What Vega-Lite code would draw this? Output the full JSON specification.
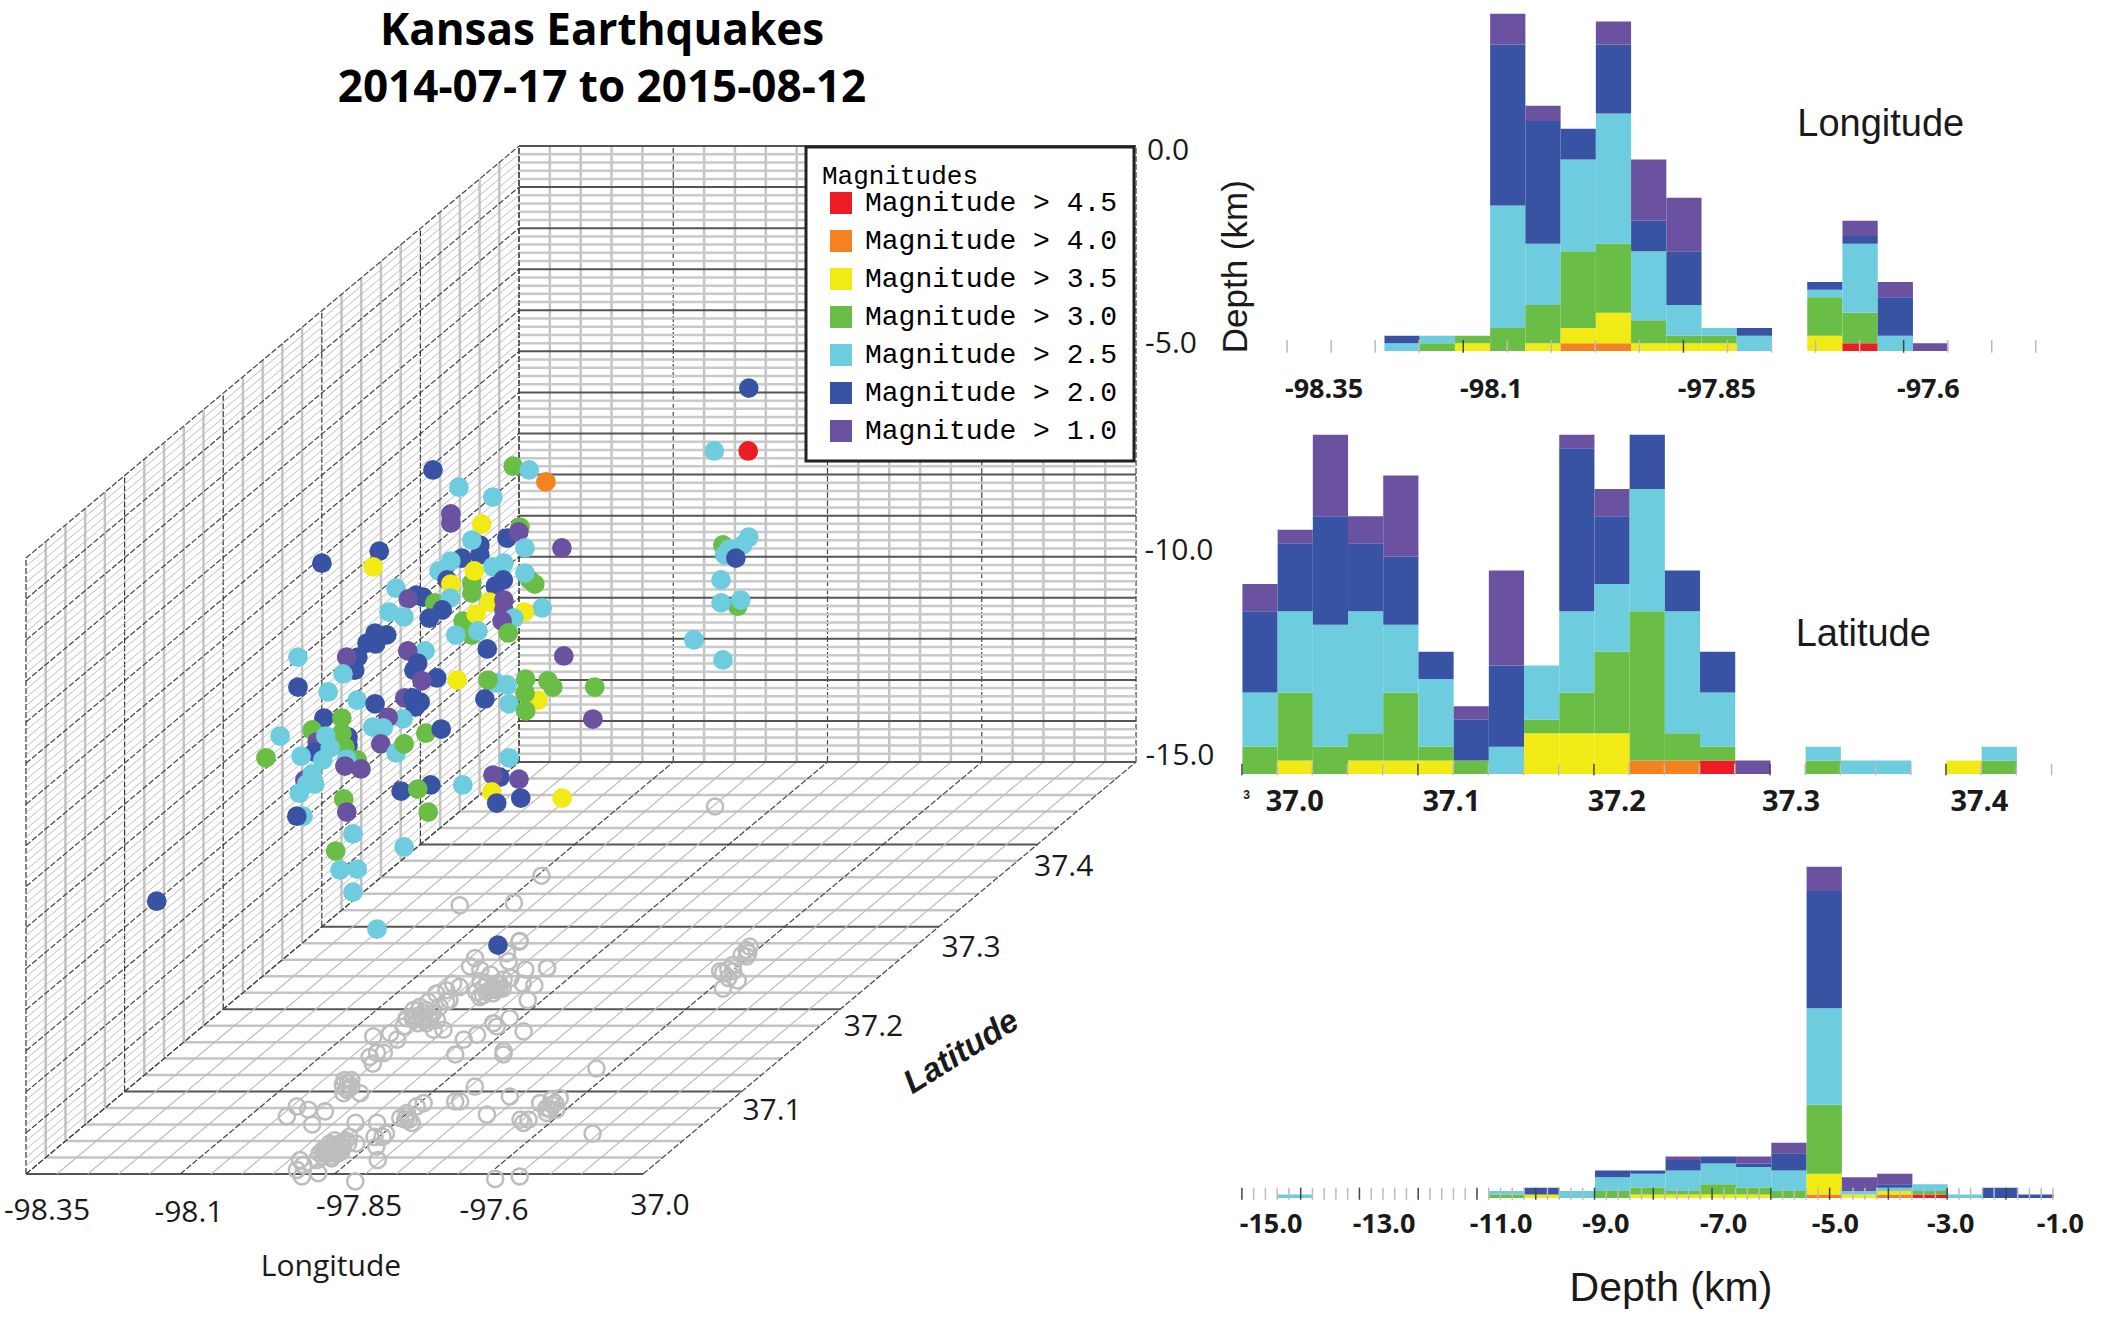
{
"$schema":"https://vega.github.io/schema/vega-lite/v6.json",
"background":"white","padding":0,"bounds":"flush","spacing":0,
"config":{"view":{"stroke":null},"axis":{"grid":false},"legend":{"strokeWidth":3}},
"datasets":{
"lats":[{"lat":37.02},{"lat":37.04},{"lat":37.06},{"lat":37.08},{"lat":37.12},{"lat":37.14},{"lat":37.16},{"lat":37.18},{"lat":37.22},{"lat":37.24},{"lat":37.26},{"lat":37.28},{"lat":37.32},{"lat":37.34},{"lat":37.36},{"lat":37.38},{"lat":37.42},{"lat":37.44},{"lat":37.46},{"lat":37.48},{"lat":37.0,"major":true},{"lat":37.1,"major":true},{"lat":37.2,"major":true},{"lat":37.3,"major":true},{"lat":37.4,"major":true},{"lat":37.5,"major":true}],
"lons":[{"lon":-98.3},{"lon":-98.25},{"lon":-98.2},{"lon":-98.15},{"lon":-98.05},{"lon":-98.0},{"lon":-97.95},{"lon":-97.9},{"lon":-97.8},{"lon":-97.75},{"lon":-97.7},{"lon":-97.65},{"lon":-97.55},{"lon":-97.5},{"lon":-97.45},{"lon":-97.4},{"lon":-98.35,"major":true},{"lon":-98.1,"major":true},{"lon":-97.85,"major":true},{"lon":-97.6,"major":true},{"lon":-97.35,"major":true}],
"depths":[{"d":-0.2},{"d":-0.4},{"d":-0.6},{"d":-0.8},{"d":-1.2},{"d":-1.4},{"d":-1.6},{"d":-1.8},{"d":-2.2},{"d":-2.4},{"d":-2.6},{"d":-2.8},{"d":-3.2},{"d":-3.4},{"d":-3.6},{"d":-3.8},{"d":-4.2},{"d":-4.4},{"d":-4.6},{"d":-4.8},{"d":-5.2},{"d":-5.4},{"d":-5.6},{"d":-5.8},{"d":-6.2},{"d":-6.4},{"d":-6.6},{"d":-6.8},{"d":-7.2},{"d":-7.4},{"d":-7.6},{"d":-7.8},{"d":-8.2},{"d":-8.4},{"d":-8.6},{"d":-8.8},{"d":-9.2},{"d":-9.4},{"d":-9.6},{"d":-9.8},{"d":-10.2},{"d":-10.4},{"d":-10.6},{"d":-10.8},{"d":-11.2},{"d":-11.4},{"d":-11.6},{"d":-11.8},{"d":-12.2},{"d":-12.4},{"d":-12.6},{"d":-12.8},{"d":-13.2},{"d":-13.4},{"d":-13.6},{"d":-13.8},{"d":-14.2},{"d":-14.4},{"d":-14.6},{"d":-14.8},{"d":0,"major":true},{"d":-1,"major":true},{"d":-2,"major":true},{"d":-3,"major":true},{"d":-4,"major":true},{"d":-5,"major":true},{"d":-6,"major":true},{"d":-7,"major":true},{"d":-8,"major":true},{"d":-9,"major":true},{"d":-10,"major":true},{"d":-11,"major":true},{"d":-12,"major":true},{"d":-13,"major":true},{"d":-14,"major":true},{"d":-15,"major":true}],
"shadows":[{"lon":-98.001,"lat":37.282},{"lon":-97.999,"lat":37.268},{"lon":-97.937,"lat":37.248},{"lon":-97.905,"lat":37.25},{"lon":-98.041,"lat":37.262},{"lon":-98.01,"lat":37.248},{"lon":-98.033,"lat":37.252},{"lon":-97.984,"lat":37.242},{"lon":-97.952,"lat":37.231},{"lon":-97.953,"lat":37.225},{"lon":-97.957,"lat":37.221},{"lon":-97.958,"lat":37.215},{"lon":-97.953,"lat":37.236},{"lon":-97.945,"lat":37.238},{"lon":-97.944,"lat":37.223},{"lon":-97.971,"lat":37.231},{"lon":-97.914,"lat":37.231},{"lon":-97.892,"lat":37.229},{"lon":-97.874,"lat":37.211},{"lon":-97.98,"lat":37.258},{"lon":-98.027,"lat":37.231},{"lon":-98.025,"lat":37.223},{"lon":-98.035,"lat":37.219},{"lon":-98.01,"lat":37.227},{"lon":-98.001,"lat":37.211},{"lon":-98.032,"lat":37.209},{"lon":-98.002,"lat":37.195},{"lon":-98.018,"lat":37.195},{"lon":-98.022,"lat":37.191},{"lon":-98.036,"lat":37.203},{"lon":-98.04,"lat":37.199},{"lon":-98.035,"lat":37.189},{"lon":-97.993,"lat":37.183},{"lon":-97.969,"lat":37.175},{"lon":-97.953,"lat":37.175},{"lon":-98.024,"lat":37.179},{"lon":-98.009,"lat":37.163},{"lon":-98.054,"lat":37.167},{"lon":-98.033,"lat":37.171},{"lon":-98.016,"lat":37.147},{"lon":-98.02,"lat":37.142},{"lon":-98.005,"lat":37.147},{"lon":-98.002,"lat":37.134},{"lon":-97.885,"lat":37.183},{"lon":-97.873,"lat":37.179},{"lon":-97.868,"lat":37.189},{"lon":-97.82,"lat":37.173},{"lon":-97.889,"lat":37.169},{"lon":-97.901,"lat":37.163},{"lon":-97.886,"lat":37.145},{"lon":-97.814,"lat":37.149},{"lon":-97.808,"lat":37.145},{"lon":-97.63,"lat":37.128},{"lon":-98.004,"lat":37.11},{"lon":-98.016,"lat":37.114},{"lon":-97.992,"lat":37.106},{"lon":-97.993,"lat":37.102},{"lon":-97.992,"lat":37.098},{"lon":-97.965,"lat":37.098},{"lon":-98.042,"lat":37.082},{"lon":-98.017,"lat":37.078},{"lon":-97.987,"lat":37.076},{"lon":-98.039,"lat":37.07},{"lon":-97.982,"lat":37.06},{"lon":-97.915,"lat":37.062},{"lon":-97.88,"lat":37.062},{"lon":-97.843,"lat":37.086},{"lon":-97.848,"lat":37.082},{"lon":-97.845,"lat":37.07},{"lon":-97.841,"lat":37.066},{"lon":-97.852,"lat":37.068},{"lon":-97.824,"lat":37.062},{"lon":-97.792,"lat":37.106},{"lon":-97.787,"lat":37.088},{"lon":-97.795,"lat":37.088},{"lon":-97.716,"lat":37.094},{"lon":-97.718,"lat":37.072},{"lon":-97.632,"lat":37.084},{"lon":-97.634,"lat":37.08},{"lon":-97.615,"lat":37.078},{"lon":-97.632,"lat":37.092},{"lon":-97.654,"lat":37.086},{"lon":-97.641,"lat":37.066},{"lon":-97.654,"lat":37.066},{"lon":-97.643,"lat":37.062},{"lon":-97.51,"lat":37.049},{"lon":-97.899,"lat":37.029},{"lon":-97.9,"lat":37.033},{"lon":-97.898,"lat":37.025},{"lon":-97.91,"lat":37.029},{"lon":-97.901,"lat":37.037},{"lon":-97.897,"lat":37.041},{"lon":-97.902,"lat":37.021},{"lon":-97.914,"lat":37.025},{"lon":-97.889,"lat":37.033},{"lon":-97.915,"lat":37.041},{"lon":-97.898,"lat":37.045},{"lon":-97.917,"lat":37.037},{"lon":-97.906,"lat":37.017},{"lon":-97.874,"lat":37.037},{"lon":-97.857,"lat":37.045},{"lon":-97.844,"lat":37.045},{"lon":-97.845,"lat":37.049},{"lon":-97.807,"lat":37.017},{"lon":-97.835,"lat":37.033},{"lon":-97.918,"lat":37.011},{"lon":-97.933,"lat":37.017},{"lon":-97.919,"lat":37.005},{"lon":-97.898,"lat":36.997},{"lon":-97.878,"lat":37.001},{"lon":-97.802,"lat":36.991},{"lon":-97.58,"lat":36.994},{"lon":-97.545,"lat":36.997},{"lon":-97.955,"lat":37.223},{"lon":-97.942,"lat":37.225},{"lon":-97.956,"lat":37.217},{"lon":-98.005,"lat":37.187},{"lon":-98.007,"lat":37.183},{"lon":-98.0,"lat":37.189},{"lon":-98.021,"lat":37.187},{"lon":-97.884,"lat":37.025},{"lon":-97.915,"lat":37.029},{"lon":-97.882,"lat":37.027},{"lon":-97.885,"lat":37.019},{"lon":-97.608,"lat":37.268},{"lon":-97.604,"lat":37.264},{"lon":-97.618,"lat":37.276},{"lon":-97.61,"lat":37.254},{"lon":-97.61,"lat":37.244},{"lon":-97.618,"lat":37.246},{"lon":-97.592,"lat":37.238},{"lon":-97.58,"lat":37.225},{"lon":-97.572,"lat":37.235},{"lon":-97.946,"lat":37.446},{"lon":-98.093,"lat":37.362},{"lon":-98.168,"lat":37.326},{"lon":-98.085,"lat":37.329},{"lon":-98.002,"lat":37.283},{"lon":-97.905,"lat":37.25},
{"lon":-97.957,"lat":37.231},{"lon":-97.943,"lat":37.219},{"lon":-97.937,"lat":37.225},{"lon":-97.97,"lat":37.227},{"lon":-97.973,"lat":37.221},{"lon":-97.987,"lat":37.234},{"lon":-98.019,"lat":37.199},{"lon":-98.02,"lat":37.193},{"lon":-97.994,"lat":37.187},{"lon":-97.983,"lat":37.187},{"lon":-98.028,"lat":37.191},{"lon":-98.004,"lat":37.203},{"lon":-98.003,"lat":37.209},{"lon":-98.009,"lat":37.108},{"lon":-98.005,"lat":37.114},{"lon":-97.994,"lat":37.104},{"lon":-97.908,"lat":37.035},{"lon":-97.891,"lat":37.029},{"lon":-97.91,"lat":37.031},{"lon":-97.89,"lat":37.025},{"lon":-97.906,"lat":37.025},{"lon":-97.899,"lat":37.039},{"lon":-97.891,"lat":37.021},{"lon":-97.887,"lat":37.037},{"lon":-97.851,"lat":37.074},{"lon":-97.835,"lat":37.066},{"lon":-97.642,"lat":37.09},{"lon":-97.625,"lat":37.078},{"lon":-97.63,"lat":37.086},{"lon":-97.624,"lat":37.074},{"lon":-97.597,"lat":37.246},{"lon":-97.615,"lat":37.266},{"lon":-97.617,"lat":37.272},{"lon":-97.608,"lat":37.248}],
"quakes":[
{"lon":-97.594,"lat":37.26,"depth":-1.08,"m":2},{"lon":-97.65,"lat":37.26,"depth":-2.61,"m":2.5},{"lon":-97.595,"lat":37.26,"depth":-2.61,"m":4.5},{"lon":-97.636,"lat":37.26,"depth":-4.9,"m":3},{"lon":-97.594,"lat":37.26,"depth":-4.71,"m":2.5},{"lon":-97.604,"lat":37.26,"depth":-4.9,"m":2.5},{"lon":-97.626,"lat":37.26,"depth":-5,"m":2.5},{"lon":-97.633,"lat":37.26,"depth":-5.14,"m":2.5},{"lon":-97.615,"lat":37.26,"depth":-5.22,"m":2},{"lon":-97.639,"lat":37.26,"depth":-5.75,"m":2.5},{"lon":-97.612,"lat":37.26,"depth":-6.39,"m":3},{"lon":-97.607,"lat":37.26,"depth":-6.24,"m":2.5},{"lon":-97.639,"lat":37.26,"depth":-6.31,"m":2.5},{"lon":-97.683,"lat":37.26,"depth":-7.21,"m":2.5},{"lon":-97.636,"lat":37.26,"depth":-7.7,"m":2.5},
{"lon":-98.042,"lat":37.22,"depth":-2.27,"m":2},{"lon":-97.912,"lat":37.22,"depth":-2.18,"m":3},{"lon":-97.886,"lat":37.22,"depth":-2.27,"m":2.5},{"lon":-97.859,"lat":37.22,"depth":-2.56,"m":4},{"lon":-98,"lat":37.22,"depth":-2.69,"m":2.5},{"lon":-97.945,"lat":37.22,"depth":-2.93,"m":2.5},{"lon":-98.013,"lat":37.22,"depth":-3.34,"m":1},{"lon":-98.013,"lat":37.22,"depth":-3.56,"m":1},{"lon":-97.963,"lat":37.22,"depth":-3.59,"m":3.5},{"lon":-97.901,"lat":37.22,"depth":-3.66,"m":3},{"lon":-97.922,"lat":37.22,"depth":-3.93,"m":2},{"lon":-97.903,"lat":37.22,"depth":-3.78,"m":1},{"lon":-97.966,"lat":37.22,"depth":-4.1,"m":2},{"lon":-97.966,"lat":37.22,"depth":-4.34,"m":2},{"lon":-97.979,"lat":37.22,"depth":-3.98,"m":2.5},{"lon":-97.893,"lat":37.22,"depth":-4.17,"m":2.5},{"lon":-97.833,"lat":37.22,"depth":-4.17,"m":1},{"lon":-98.129,"lat":37.22,"depth":-4.25,"m":2},{"lon":-98.139,"lat":37.22,"depth":-4.63,"m":3.5},{"lon":-98.222,"lat":37.22,"depth":-4.54,"m":2},{"lon":-97.995,"lat":37.22,"depth":-4.42,"m":2},{"lon":-98.013,"lat":37.22,"depth":-4.49,"m":2.5},{"lon":-98.032,"lat":37.22,"depth":-4.73,"m":2.5},{"lon":-97.945,"lat":37.22,"depth":-4.63,"m":2.5},{"lon":-97.927,"lat":37.22,"depth":-4.54,"m":2.5},{"lon":-97.877,"lat":37.22,"depth":-5.05,"m":3},{"lon":-97.885,"lat":37.22,"depth":-4.95,"m":3},{"lon":-97.893,"lat":37.22,"depth":-4.78,"m":2.5},{"lon":-97.928,"lat":37.22,"depth":-4.95,"m":2},{"lon":-97.941,"lat":37.22,"depth":-5.1,"m":2},{"lon":-98.019,"lat":37.22,"depth":-4.95,"m":2},{"lon":-98.013,"lat":37.22,"depth":-5.05,"m":3.5},{"lon":-98.102,"lat":37.22,"depth":-5.15,"m":2.5},{"lon":-97.979,"lat":37.22,"depth":-5.02,"m":3},{"lon":-97.979,"lat":37.22,"depth":-5.27,"m":3},{"lon":-97.975,"lat":37.22,"depth":-4.73,"m":3.5},{"lon":-98.069,"lat":37.22,"depth":-5.32,"m":2},{"lon":-98.058,"lat":37.22,"depth":-5.37,"m":2},{"lon":-98.082,"lat":37.22,"depth":-5.41,"m":1},{"lon":-98.039,"lat":37.22,"depth":-5.51,"m":3},{"lon":-98.014,"lat":37.22,"depth":-5.39,"m":2.5},{"lon":-97.95,"lat":37.22,"depth":-5.49,"m":3.5},{"lon":-97.927,"lat":37.22,"depth":-5.44,"m":1},{"lon":-97.927,"lat":37.22,"depth":-5.68,"m":1},{"lon":-97.865,"lat":37.22,"depth":-5.63,"m":2.5},{"lon":-97.894,"lat":37.22,"depth":-5.73,"m":3.5},{"lon":-98.113,"lat":37.22,"depth":-5.73,"m":2.5},{"lon":-98.089,"lat":37.22,"depth":-5.85,"m":2.5},{"lon":-98.027,"lat":37.22,"depth":-5.68,"m":2},{"lon":-98.048,"lat":37.22,"depth":-5.88,"m":2},{"lon":-97.993,"lat":37.22,"depth":-5.95,"m":3},{"lon":-97.972,"lat":37.22,"depth":-5.78,"m":3.5},{"lon":-97.911,"lat":37.22,"depth":-5.88,"m":2.5},{"lon":-97.93,"lat":37.22,"depth":-5.95,"m":1},{"lon":-97.979,"lat":37.22,"depth":-6.29,"m":3},{"lon":-97.92,"lat":37.22,"depth":-6.24,"m":3},{"lon":-98.005,"lat":37.22,"depth":-6.29,"m":2.5},{"lon":-97.969,"lat":37.22,"depth":-6.19,"m":2.5},{"lon":-97.954,"lat":37.22,"depth":-6.63,"m":2},{"lon":-97.83,"lat":37.22,"depth":-6.8,"m":1},
{"lon":-97.965,"lat":37.125,"depth":-4.38,"m":2},{"lon":-97.984,"lat":37.125,"depth":-4.34,"m":2},{"lon":-97.997,"lat":37.125,"depth":-4.58,"m":2},{"lon":-97.983,"lat":37.125,"depth":-4.6,"m":2},{"lon":-97.903,"lat":37.125,"depth":-4.77,"m":2.5},{"lon":-97.931,"lat":37.125,"depth":-4.77,"m":1},{"lon":-97.915,"lat":37.125,"depth":-5.07,"m":2},{"lon":-97.921,"lat":37.125,"depth":-5.24,"m":2},{"lon":-97.884,"lat":37.125,"depth":-5.43,"m":2},{"lon":-97.908,"lat":37.125,"depth":-5.5,"m":1},{"lon":-97.851,"lat":37.125,"depth":-5.48,"m":3.5},{"lon":-97.72,"lat":37.125,"depth":-5.97,"m":3.5},{"lon":-97.787,"lat":37.125,"depth":-5.55,"m":2.5},{"lon":-97.77,"lat":37.125,"depth":-5.6,"m":2.5},{"lon":-97.801,"lat":37.125,"depth":-5.48,"m":3},{"lon":-97.74,"lat":37.125,"depth":-5.46,"m":3},{"lon":-97.704,"lat":37.125,"depth":-5.5,"m":3},{"lon":-97.696,"lat":37.125,"depth":-5.65,"m":3},{"lon":-97.628,"lat":37.125,"depth":-5.65,"m":3},{"lon":-97.806,"lat":37.125,"depth":-5.94,"m":2},{"lon":-97.767,"lat":37.125,"depth":-6.06,"m":2.5},{"lon":-97.741,"lat":37.125,"depth":-5.8,"m":3},{"lon":-97.74,"lat":37.125,"depth":-6.23,"m":3},{"lon":-98.109,"lat":37.125,"depth":-4.92,"m":2.5},{"lon":-98.012,"lat":37.125,"depth":-4.92,"m":2},{"lon":-98.017,"lat":37.125,"depth":-5.24,"m":2},{"lon":-98.03,"lat":37.125,"depth":-4.92,"m":1},{"lon":-98.036,"lat":37.125,"depth":-5.33,"m":2.5},{"lon":-98.109,"lat":37.125,"depth":-5.65,"m":2},{"lon":-98.06,"lat":37.125,"depth":-5.77,"m":2.5},{"lon":-98.013,"lat":37.125,"depth":-5.97,"m":2.5},{"lon":-97.984,"lat":37.125,"depth":-6.06,"m":2},{"lon":-97.631,"lat":37.125,"depth":-6.43,"m":1},
{"lon":-97.816,"lat":37.05,"depth":-4.41,"m":1},{"lon":-97.803,"lat":37.05,"depth":-4.41,"m":2},{"lon":-97.791,"lat":37.05,"depth":-4.51,"m":2},{"lon":-97.799,"lat":37.05,"depth":-4.63,"m":2},{"lon":-97.819,"lat":37.05,"depth":-4.92,"m":2.5},{"lon":-97.843,"lat":37.05,"depth":-4.88,"m":1},{"lon":-97.947,"lat":37.05,"depth":-4.9,"m":2},{"lon":-97.966,"lat":37.05,"depth":-5.19,"m":3},{"lon":-97.918,"lat":37.05,"depth":-4.9,"m":3},{"lon":-97.868,"lat":37.05,"depth":-5.12,"m":2.5},{"lon":-97.851,"lat":37.05,"depth":-5.14,"m":2.5},{"lon":-97.782,"lat":37.05,"depth":-5.27,"m":3},{"lon":-97.757,"lat":37.05,"depth":-5.17,"m":2},{"lon":-98.018,"lat":37.05,"depth":-5.34,"m":2.5},{"lon":-97.908,"lat":37.05,"depth":-5.36,"m":2},{"lon":-97.908,"lat":37.05,"depth":-5.56,"m":2},{"lon":-97.958,"lat":37.05,"depth":-5.48,"m":1},{"lon":-97.918,"lat":37.05,"depth":-5.27,"m":3},{"lon":-97.944,"lat":37.05,"depth":-5.34,"m":2.5},{"lon":-97.855,"lat":37.05,"depth":-5.53,"m":1},{"lon":-97.83,"lat":37.05,"depth":-5.75,"m":2.5},{"lon":-97.817,"lat":37.05,"depth":-5.53,"m":3},{"lon":-97.962,"lat":37.05,"depth":-5.73,"m":2},{"lon":-97.913,"lat":37.05,"depth":-5.61,"m":3},{"lon":-97.937,"lat":37.05,"depth":-5.63,"m":2.5},{"lon":-98.041,"lat":37.05,"depth":-5.87,"m":3},{"lon":-97.984,"lat":37.05,"depth":-5.83,"m":2.5},{"lon":-97.949,"lat":37.05,"depth":-5.92,"m":2.5},{"lon":-97.893,"lat":37.05,"depth":-5.92,"m":3},{"lon":-97.91,"lat":37.05,"depth":-5.9,"m":2.5},{"lon":-97.913,"lat":37.05,"depth":-6.07,"m":1},{"lon":-97.887,"lat":37.05,"depth":-6.14,"m":1},{"lon":-97.647,"lat":37.05,"depth":-5.87,"m":2.5},{"lon":-97.978,"lat":37.05,"depth":-6.41,"m":1},{"lon":-97.966,"lat":37.05,"depth":-6.26,"m":2.5},{"lon":-97.975,"lat":37.05,"depth":-6.51,"m":2.5},{"lon":-97.962,"lat":37.05,"depth":-6.51,"m":2.5},{"lon":-97.987,"lat":37.05,"depth":-6.73,"m":2.5},{"lon":-97.662,"lat":37.05,"depth":-6.34,"m":2},{"lon":-97.673,"lat":37.05,"depth":-6.29,"m":1},{"lon":-97.631,"lat":37.05,"depth":-6.39,"m":1},{"lon":-97.722,"lat":37.05,"depth":-6.53,"m":2.5},{"lon":-97.822,"lat":37.05,"depth":-6.68,"m":2},{"lon":-97.774,"lat":37.05,"depth":-6.53,"m":2},{"lon":-97.795,"lat":37.05,"depth":-6.63,"m":3},{"lon":-97.675,"lat":37.05,"depth":-6.7,"m":3.5},{"lon":-97.667,"lat":37.05,"depth":-6.97,"m":2},{"lon":-97.628,"lat":37.05,"depth":-6.85,"m":2},{"lon":-97.561,"lat":37.05,"depth":-6.85,"m":3.5},{"lon":-97.915,"lat":37.05,"depth":-6.87,"m":3},{"lon":-97.91,"lat":37.05,"depth":-7.19,"m":1},{"lon":-97.981,"lat":37.05,"depth":-7.29,"m":2.5},{"lon":-97.991,"lat":37.05,"depth":-7.29,"m":2},{"lon":-97.778,"lat":37.05,"depth":-7.19,"m":3},{"lon":-97.9,"lat":37.05,"depth":-7.72,"m":2.5},{"lon":-97.817,"lat":37.05,"depth":-8.04,"m":2.5},{"lon":-97.928,"lat":37.05,"depth":-8.14,"m":3},{"lon":-97.921,"lat":37.05,"depth":-8.6,"m":2.5},{"lon":-97.893,"lat":37.05,"depth":-8.58,"m":2.5},{"lon":-97.9,"lat":37.05,"depth":-9.14,"m":2.5},{"lon":-97.861,"lat":37.05,"depth":-10.04,"m":2.5},{"lon":-97.665,"lat":37.05,"depth":-10.43,"m":2},{"lon":-98.218,"lat":37.05,"depth":-9.36,"m":2}],
"labels3d":[{"label":"-98.35","lon":-98.2442,"lat":36.9551,"depth":-15},{"label":"-98.1","lon":-98.0102,"lat":36.9527,"depth":-15},{"label":"-97.85","lon":-97.7463,"lat":36.96,"depth":-15},{"label":"-97.6","lon":-97.5197,"lat":36.9551,"depth":-15},{"label":"37.0","lon":-97.2604,"lat":36.9612,"depth":-15},{"label":"37.1","lon":-97.2631,"lat":37.0765,"depth":-15},{"label":"37.2","lon":-97.2623,"lat":37.1789,"depth":-15},{"label":"37.3","lon":-97.2557,"lat":37.2737,"depth":-15},{"label":"37.4","lon":-97.2636,"lat":37.3726,"depth":-15},{"label":"Longitude","lon":-97.6753,"lat":36.8871,"depth":-15},{"label":"0.0","lon":-97.2981,"lat":37.5,"depth":-0.12},{"label":"-5.0","lon":-97.2933,"lat":37.5,"depth":-4.82},{"label":"-10.0","lon":-97.2803,"lat":37.5,"depth":-9.86},{"label":"-15.0","lon":-97.2787,"lat":37.5,"depth":-14.85}],
"titles3d":[{"label":"Kansas Earthquakes","lon":-98.2155,"lat":37.5,"depth":2.78},{"label":"2014-07-17 to 2015-08-12","lon":-98.2155,"lat":37.5,"depth":1.39}],
"latTitle":[{"label":"Latitude","lon":-97.0705,"lat":37.148,"depth":-15}]
},
"hconcat":[
{"width":1190,"height":1326,
"layer":[
{"data":{"name":"lats"},"transform":[{"calculate":"1.598*(datum.lat-37)","as":"a"},{"calculate":"datum.a+1","as":"b"},{"calculate":"1.3355*(datum.lat-37)","as":"c"}],"mark":{"type":"rule"},
"encoding":{"x":{"field":"a","type":"quantitative","scale":{"domain":[-0.04214,1.8865],"nice":false,"zero":false},"axis":null},"x2":{"field":"b"},"y":{"field":"c","type":"quantitative","scale":{"domain":[-0.2464,1.9028],"nice":false,"zero":false},"axis":null},"y2":{"field":"c"},
"stroke":{"condition":{"test":"datum.major","value":"#555555"},"value":"#c4c4c4"},"strokeWidth":{"condition":{"test":"datum.major","value":2},"value":2.5}}},
{"data":{"name":"lons"},"transform":[{"calculate":"datum.lon+98.35","as":"a"},{"calculate":"datum.a+0.799","as":"b"},{"calculate":"0","as":"c"},{"calculate":"0.6677","as":"e"}],"mark":{"type":"rule"},
"encoding":{"x":{"field":"a","type":"quantitative","axis":null},"x2":{"field":"b"},"y":{"field":"c","type":"quantitative","axis":null},"y2":{"field":"e"},
"stroke":{"condition":{"test":"datum.major","value":"#444444"},"value":"#bcbcbc"},"strokeWidth":{"condition":{"test":"datum.major","value":1.2},"value":1.2},"strokeDash":{"condition":{"test":"datum.major","value":[6,2]},"value":[1,0]}}},
{"data":{"name":"lons"},"transform":[{"calculate":"datum.lon+98.35+0.799","as":"a"},{"calculate":"0.6677","as":"c"},{"calculate":"1.6661","as":"e"}],"mark":{"type":"rule"},
"encoding":{"x":{"field":"a","type":"quantitative","axis":null},"y":{"field":"c","type":"quantitative","axis":null},"y2":{"field":"e"},
"stroke":{"condition":{"test":"datum.major","value":"#444444"},"value":"#c4c4c4"},"strokeWidth":{"condition":{"test":"datum.major","value":1.2},"value":2.5},"strokeDash":{"condition":{"test":"datum.major","value":[6,2]},"value":[1,0]}}},
{"data":{"name":"depths"},"transform":[{"calculate":"0.799","as":"a"},{"calculate":"1.799","as":"b"},{"calculate":"0.6677+(datum.d+15)*0.06656","as":"c"}],"mark":{"type":"rule"},
"encoding":{"x":{"field":"a","type":"quantitative","axis":null},"x2":{"field":"b"},"y":{"field":"c","type":"quantitative","axis":null},"y2":{"field":"c"},
"stroke":{"condition":{"test":"datum.major","value":"#555555"},"value":"#c9c9c9"},"strokeWidth":{"condition":{"test":"datum.major","value":2},"value":2.5}}},
{"data":{"name":"lats"},"transform":[{"calculate":"1.598*(datum.lat-37)","as":"a"},{"calculate":"1.3355*(datum.lat-37)","as":"c"},{"calculate":"datum.c+0.9984","as":"e"}],"mark":{"type":"rule"},
"encoding":{"x":{"field":"a","type":"quantitative","axis":null},"y":{"field":"c","type":"quantitative","axis":null},"y2":{"field":"e"},
"stroke":{"condition":{"test":"datum.major","value":"#333333"},"value":"#c4c4c4"},"strokeWidth":{"condition":{"test":"datum.major","value":1.2},"value":2.5},"strokeDash":{"condition":{"test":"datum.major","value":[6,2]},"value":[1,0]}}},
{"data":{"name":"depths"},"transform":[{"calculate":"0","as":"a"},{"calculate":"0.799","as":"b"},{"calculate":"(datum.d+15)*0.06656","as":"c"},{"calculate":"datum.c+0.6677","as":"e"}],"mark":{"type":"rule"},
"encoding":{"x":{"field":"a","type":"quantitative","axis":null},"x2":{"field":"b"},"y":{"field":"c","type":"quantitative","axis":null},"y2":{"field":"e"},
"stroke":{"condition":{"test":"datum.major","value":"#444444"},"value":"#b4b4b4"},"strokeWidth":{"condition":{"test":"datum.major","value":1.2},"value":1},"strokeDash":{"condition":{"test":"datum.major","value":[6,2]},"value":[1,0]}}},
{"data":{"name":"shadows"},"transform":[{"calculate":"(datum.lon+98.35)+1.598*(datum.lat-37)","as":"px"},{"calculate":"1.3355*(datum.lat-37)","as":"py"}],"mark":{"type":"point","filled":false,"opacity":1},
"encoding":{"x":{"field":"px","type":"quantitative","axis":null},"y":{"field":"py","type":"quantitative","axis":null},"size":{"value":260},"stroke":{"value":"#bdbdbd"},"strokeWidth":{"value":2.5}}},
{"data":{"name":"quakes"},"transform":[{"calculate":"(datum.lon+98.35)+1.598*(datum.lat-37)","as":"px"},{"calculate":"1.3355*(datum.lat-37)+(datum.depth+15)*0.06656","as":"py"}],"mark":{"type":"point","filled":true,"opacity":1},
"encoding":{"x":{"field":"px","type":"quantitative","axis":null},"y":{"field":"py","type":"quantitative","axis":null},"size":{"value":390},
"color":{"field":"m","type":"nominal","scale":{"domain":[4.5,4,3.5,3,2.5,2,1],"range":["#ED1C24","#F58220","#F2EA14","#6ABD45","#6DCCDD","#3953A4","#6B52A0"]},
"legend":{"orient":"none","legendX":806,"legendY":147,"title":"Magnitudes","symbolType":"square","symbolSize":484,"symbolStrokeWidth":0,"symbolOpacity":1,"symbolOffset":5,"fillColor":"white","strokeColor":"#222222","padding":16,"rowPadding":10,"titleFont":"Liberation Mono","titleFontSize":26,"titleFontWeight":"normal","titleColor":"#000000","titlePadding":0,"labelFont":"Liberation Mono","labelFontSize":28,"labelColor":"#000000","labelOffset":10,"labelLimit":320,"labelExpr":"'Magnitude > ' + format(datum.value,'.1f')"}}}},
{"data":{"name":"labels3d"},"transform":[{"calculate":"(datum.lon+98.35)+1.598*(datum.lat-37)","as":"px"},{"calculate":"1.3355*(datum.lat-37)+(datum.depth+15)*0.06656","as":"py"}],"mark":{"type":"text","font":"Open Sans","fontSize":30,"color":"#1a1a1a","align":"center","baseline":"middle"},
"encoding":{"x":{"field":"px","type":"quantitative","axis":null},"y":{"field":"py","type":"quantitative","axis":null},"text":{"field":"label"}}},
{"data":{"name":"titles3d"},"transform":[{"calculate":"(datum.lon+98.35)+1.598*(datum.lat-37)","as":"px"},{"calculate":"1.3355*(datum.lat-37)+(datum.depth+15)*0.06656","as":"py"}],"mark":{"type":"text","font":"Open Sans","fontSize":44,"fontWeight":"bold","color":"#000000","align":"center","baseline":"middle"},
"encoding":{"x":{"field":"px","type":"quantitative","axis":null},"y":{"field":"py","type":"quantitative","axis":null},"text":{"field":"label"}}},
{"data":{"name":"latTitle"},"transform":[{"calculate":"(datum.lon+98.35)+1.598*(datum.lat-37)","as":"px"},{"calculate":"1.3355*(datum.lat-37)+(datum.depth+15)*0.06656","as":"py"}],"mark":{"type":"text","font":"Liberation Sans","fontSize":33,"fontWeight":"bold","fontStyle":"italic","angle":328,"color":"#1a1a1a","align":"center","baseline":"middle"},
"encoding":{"x":{"field":"px","type":"quantitative","axis":null},"y":{"field":"py","type":"quantitative","axis":null},"text":{"field":"label"}}}
]},
{"vconcat":[
{"width":923,"height":351,
"layer":[
{"data":{"values":[{"x0":-98.19,"x1":-98.15,"m":2.5,"n":1},{"x0":-98.19,"x1":-98.15,"m":2,"n":1},{"x0":-98.15,"x1":-98.11,"m":3,"n":1},{"x0":-98.15,"x1":-98.11,"m":2.5,"n":1},{"x0":-98.11,"x1":-98.07,"m":3.5,"n":1},{"x0":-98.11,"x1":-98.07,"m":3,"n":1},{"x0":-98.07,"x1":-98.03,"m":3,"n":3},{"x0":-98.07,"x1":-98.03,"m":2.5,"n":16},{"x0":-98.07,"x1":-98.03,"m":2,"n":21},{"x0":-98.07,"x1":-98.03,"m":1,"n":4},{"x0":-98.03,"x1":-97.99,"m":3.5,"n":1},{"x0":-98.03,"x1":-97.99,"m":3,"n":5},{"x0":-98.03,"x1":-97.99,"m":2.5,"n":8},{"x0":-98.03,"x1":-97.99,"m":2,"n":16},{"x0":-98.03,"x1":-97.99,"m":1,"n":2},{"x0":-97.99,"x1":-97.95,"m":4,"n":1},{"x0":-97.99,"x1":-97.95,"m":3.5,"n":2},{"x0":-97.99,"x1":-97.95,"m":3,"n":10},{"x0":-97.99,"x1":-97.95,"m":2.5,"n":12},{"x0":-97.99,"x1":-97.95,"m":2,"n":4},{"x0":-97.95,"x1":-97.91,"m":4,"n":1},{"x0":-97.95,"x1":-97.91,"m":3.5,"n":4},{"x0":-97.95,"x1":-97.91,"m":3,"n":9},{"x0":-97.95,"x1":-97.91,"m":2.5,"n":17},{"x0":-97.95,"x1":-97.91,"m":2,"n":9},{"x0":-97.95,"x1":-97.91,"m":1,"n":3},{"x0":-97.91,"x1":-97.87,"m":3.5,"n":1},{"x0":-97.91,"x1":-97.87,"m":3,"n":3},{"x0":-97.91,"x1":-97.87,"m":2.5,"n":9},{"x0":-97.91,"x1":-97.87,"m":2,"n":4},{"x0":-97.91,"x1":-97.87,"m":1,"n":8},{"x0":-97.87,"x1":-97.83,"m":3.5,"n":1},{"x0":-97.87,"x1":-97.83,"m":3,"n":1},{"x0":-97.87,"x1":-97.83,"m":2.5,"n":4},{"x0":-97.87,"x1":-97.83,"m":2,"n":7},{"x0":-97.87,"x1":-97.83,"m":1,"n":7},{"x0":-97.83,"x1":-97.79,"m":3.5,"n":1},{"x0":-97.83,"x1":-97.79,"m":3,"n":1},{"x0":-97.83,"x1":-97.79,"m":2.5,"n":1},{"x0":-97.79,"x1":-97.75,"m":2.5,"n":2},{"x0":-97.79,"x1":-97.75,"m":2,"n":1},{"x0":-97.71,"x1":-97.67,"m":3.5,"n":2},{"x0":-97.71,"x1":-97.67,"m":3,"n":5},{"x0":-97.71,"x1":-97.67,"m":2.5,"n":1},{"x0":-97.71,"x1":-97.67,"m":2,"n":1},{"x0":-97.67,"x1":-97.63,"m":4.5,"n":1},{"x0":-97.67,"x1":-97.63,"m":3,"n":4},{"x0":-97.67,"x1":-97.63,"m":2.5,"n":9},{"x0":-97.67,"x1":-97.63,"m":2,"n":1},{"x0":-97.67,"x1":-97.63,"m":1,"n":2},{"x0":-97.63,"x1":-97.59,"m":2.5,"n":2},{"x0":-97.63,"x1":-97.59,"m":2,"n":5},{"x0":-97.63,"x1":-97.59,"m":1,"n":2},{"x0":-97.59,"x1":-97.55,"m":1,"n":1}]},
"mark":{"type":"bar","binSpacing":0},
"encoding":{"x":{"field":"x0","type":"quantitative","bin":"binned","scale":{"domain":[-98.4102,-97.3623],"nice":false,"zero":false},"axis":null},"x2":{"field":"x1"},"y":{"field":"n","type":"quantitative","stack":"zero","scale":{"domain":[0,45.8],"nice":false},"axis":null},"order":{"field":"m","sort":"descending"},
"color":{"field":"m","type":"nominal","scale":{"domain":[4.5,4,3.5,3,2.5,2,1],"range":["#ED1C24","#F58220","#F2EA14","#6ABD45","#6DCCDD","#3953A4","#6B52A0"]},"legend":null}}},
{"data":{"values":[{"t":-98.3},{"t":-98.25},{"t":-98.2},{"t":-98.15},{"t":-98.05},{"t":-98.0},{"t":-97.95},{"t":-97.9},{"t":-97.8},{"t":-97.75},{"t":-97.7},{"t":-97.65},{"t":-97.55},{"t":-97.5},{"t":-97.45},{"t":-98.1,"major":true},{"t":-97.85,"major":true},{"t":-97.6,"major":true}]},
"transform":[{"calculate":"-0.22","as":"u0"},{"calculate":"1.43","as":"u1"}],
"mark":{"type":"rule","strokeWidth":1.5},
"encoding":{"x":{"field":"t","type":"quantitative"},"y":{"field":"u0","type":"quantitative"},"y2":{"field":"u1"},"stroke":{"condition":{"test":"datum.major","value":"#444444"},"value":"#bbbbbb"}}},
{"data":{"values":[{"label":"-98.35","at":-98.258,"n":-5.09},{"label":"-98.1","at":-98.068,"n":-5.09},{"label":"-97.85","at":-97.812,"n":-5.09},{"label":"-97.6","at":-97.572,"n":-5.09}]},
"mark":{"type":"text","font":"Open Sans","fontWeight":"bold","fontSize":27,"color":"#1a1a1a","align":"center","baseline":"middle"},
"encoding":{"x":{"field":"at","type":"quantitative"},"y":{"field":"n","type":"quantitative"},"text":{"field":"label"}}},
{"data":{"values":[{"label":"Longitude","at":-97.626,"n":29.5}]},
"mark":{"type":"text","font":"Liberation Sans","fontSize":38,"color":"#1a1a1a","align":"center","baseline":"middle"},
"encoding":{"x":{"field":"at","type":"quantitative"},"y":{"field":"n","type":"quantitative"},"text":{"field":"label"}}},
{"data":{"values":[{"label":"Depth (km)","at":-98.358,"n":11}]},
"mark":{"type":"text","font":"Liberation Sans","fontSize":35,"angle":270,"color":"#1a1a1a","align":"center","baseline":"middle"},
"encoding":{"x":{"field":"at","type":"quantitative"},"y":{"field":"n","type":"quantitative"},"text":{"field":"label"}}}
]},
{"width":923,"height":423,
"layer":[
{"data":{"values":[{"x0":37.0,"x1":37.02,"m":3,"n":2},{"x0":37.0,"x1":37.02,"m":2.5,"n":4},{"x0":37.0,"x1":37.02,"m":2,"n":6},{"x0":37.0,"x1":37.02,"m":1,"n":2},{"x0":37.02,"x1":37.04,"m":3.5,"n":1},{"x0":37.02,"x1":37.04,"m":3,"n":5},{"x0":37.02,"x1":37.04,"m":2.5,"n":6},{"x0":37.02,"x1":37.04,"m":2,"n":5},{"x0":37.02,"x1":37.04,"m":1,"n":1},{"x0":37.04,"x1":37.06,"m":3,"n":2},{"x0":37.04,"x1":37.06,"m":2.5,"n":9},{"x0":37.04,"x1":37.06,"m":2,"n":8},{"x0":37.04,"x1":37.06,"m":1,"n":6},{"x0":37.06,"x1":37.08,"m":3.5,"n":1},{"x0":37.06,"x1":37.08,"m":3,"n":2},{"x0":37.06,"x1":37.08,"m":2.5,"n":9},{"x0":37.06,"x1":37.08,"m":2,"n":5},{"x0":37.06,"x1":37.08,"m":1,"n":2},{"x0":37.08,"x1":37.1,"m":3.5,"n":1},{"x0":37.08,"x1":37.1,"m":3,"n":5},{"x0":37.08,"x1":37.1,"m":2.5,"n":5},{"x0":37.08,"x1":37.1,"m":2,"n":5},{"x0":37.08,"x1":37.1,"m":1,"n":6},{"x0":37.1,"x1":37.12,"m":3.5,"n":1},{"x0":37.1,"x1":37.12,"m":3,"n":1},{"x0":37.1,"x1":37.12,"m":2.5,"n":5},{"x0":37.1,"x1":37.12,"m":2,"n":2},{"x0":37.12,"x1":37.14,"m":3,"n":1},{"x0":37.12,"x1":37.14,"m":2,"n":3},{"x0":37.12,"x1":37.14,"m":1,"n":1},{"x0":37.14,"x1":37.16,"m":2.5,"n":2},{"x0":37.14,"x1":37.16,"m":2,"n":6},{"x0":37.14,"x1":37.16,"m":1,"n":7},{"x0":37.16,"x1":37.18,"m":3.5,"n":3},{"x0":37.16,"x1":37.18,"m":3,"n":1},{"x0":37.16,"x1":37.18,"m":2.5,"n":4},{"x0":37.18,"x1":37.2,"m":3.5,"n":3},{"x0":37.18,"x1":37.2,"m":3,"n":3},{"x0":37.18,"x1":37.2,"m":2.5,"n":6},{"x0":37.18,"x1":37.2,"m":2,"n":12},{"x0":37.18,"x1":37.2,"m":1,"n":1},{"x0":37.2,"x1":37.22,"m":3.5,"n":3},{"x0":37.2,"x1":37.22,"m":3,"n":6},{"x0":37.2,"x1":37.22,"m":2.5,"n":5},{"x0":37.2,"x1":37.22,"m":2,"n":5},{"x0":37.2,"x1":37.22,"m":1,"n":2},{"x0":37.22,"x1":37.24,"m":4,"n":1},{"x0":37.22,"x1":37.24,"m":3,"n":11},{"x0":37.22,"x1":37.24,"m":2.5,"n":9},{"x0":37.22,"x1":37.24,"m":2,"n":4},{"x0":37.24,"x1":37.26,"m":4,"n":1},{"x0":37.24,"x1":37.26,"m":3,"n":2},{"x0":37.24,"x1":37.26,"m":2.5,"n":9},{"x0":37.24,"x1":37.26,"m":2,"n":3},{"x0":37.26,"x1":37.28,"m":4.5,"n":1},{"x0":37.26,"x1":37.28,"m":3,"n":1},{"x0":37.26,"x1":37.28,"m":2.5,"n":4},{"x0":37.26,"x1":37.28,"m":2,"n":3},{"x0":37.28,"x1":37.3,"m":1,"n":1},{"x0":37.32,"x1":37.34,"m":3,"n":1},{"x0":37.32,"x1":37.34,"m":2.5,"n":1},{"x0":37.34,"x1":37.36,"m":2.5,"n":1},{"x0":37.36,"x1":37.38,"m":2.5,"n":1},{"x0":37.4,"x1":37.42,"m":3.5,"n":1},{"x0":37.42,"x1":37.44,"m":3,"n":1},{"x0":37.42,"x1":37.44,"m":2.5,"n":1}]},
"mark":{"type":"bar","binSpacing":0},
"encoding":{"x":{"field":"x0","type":"quantitative","bin":"binned","scale":{"domain":[36.9705,37.4949],"nice":false,"zero":false},"axis":null},"x2":{"field":"x1"},"y":{"field":"n","type":"quantitative","stack":"zero","scale":{"domain":[0,31.17],"nice":false},"axis":null},"order":{"field":"m","sort":"descending"},
"color":{"field":"m","type":"nominal","scale":{"domain":[4.5,4,3.5,3,2.5,2,1],"range":["#ED1C24","#F58220","#F2EA14","#6ABD45","#6DCCDD","#3953A4","#6B52A0"]},"legend":null}}},
{"data":{"values":[{"t":37.02},{"t":37.04},{"t":37.06},{"t":37.08},{"t":37.12},{"t":37.14},{"t":37.16},{"t":37.18},{"t":37.22},{"t":37.24},{"t":37.26},{"t":37.28},{"t":37.32},{"t":37.34},{"t":37.36},{"t":37.38},{"t":37.42},{"t":37.44},{"t":37.46},{"t":37.0,"major":true},{"t":37.1,"major":true},{"t":37.2,"major":true},{"t":37.3,"major":true},{"t":37.4,"major":true}]},
"transform":[{"calculate":"-0.1","as":"u0"},{"calculate":"0.75","as":"u1"}],
"mark":{"type":"rule","strokeWidth":1.5},
"encoding":{"x":{"field":"t","type":"quantitative"},"y":{"field":"u0","type":"quantitative"},"y2":{"field":"u1"},"stroke":{"condition":{"test":"datum.major","value":"#444444"},"value":"#bbbbbb"}}},
{"data":{"values":[{"label":"37.0","at":37.03,"n":-2.05},{"label":"37.1","at":37.119,"n":-2.05},{"label":"37.2","at":37.213,"n":-2.05},{"label":"37.3","at":37.312,"n":-2.05},{"label":"37.4","at":37.419,"n":-2.05}]},
"mark":{"type":"text","font":"Open Sans","fontWeight":"bold","fontSize":29,"color":"#1a1a1a","align":"center","baseline":"middle"},
"encoding":{"x":{"field":"at","type":"quantitative"},"y":{"field":"n","type":"quantitative"},"text":{"field":"label"}}},
{"data":{"values":[{"label":"3","at":37.0026,"n":-1.55}]},
"mark":{"type":"text","font":"Liberation Sans","fontWeight":"bold","fontSize":12,"color":"#1a1a1a","align":"center","baseline":"middle"},
"encoding":{"x":{"field":"at","type":"quantitative"},"y":{"field":"n","type":"quantitative"},"text":{"field":"label"}}},
{"data":{"values":[{"label":"Latitude","at":37.353,"n":10.24}]},
"mark":{"type":"text","font":"Liberation Sans","fontSize":38,"color":"#1a1a1a","align":"center","baseline":"middle"},
"encoding":{"x":{"field":"at","type":"quantitative"},"y":{"field":"n","type":"quantitative"},"text":{"field":"label"}}}
]},
{"width":923,"height":424,
"layer":[
{"data":{"values":[{"x0":-14.4,"x1":-13.8,"m":2.5,"n":1},{"x0":-10.8,"x1":-10.2,"m":3,"n":1},{"x0":-10.8,"x1":-10.2,"m":2.5,"n":1},{"x0":-10.2,"x1":-9.6,"m":3.5,"n":1},{"x0":-10.2,"x1":-9.6,"m":2,"n":2},{"x0":-9.6,"x1":-9.0,"m":2.5,"n":2},{"x0":-9.0,"x1":-8.4,"m":3,"n":2},{"x0":-9.0,"x1":-8.4,"m":2.5,"n":4},{"x0":-9.0,"x1":-8.4,"m":2,"n":2},{"x0":-8.4,"x1":-7.8,"m":3.5,"n":1},{"x0":-8.4,"x1":-7.8,"m":3,"n":2},{"x0":-8.4,"x1":-7.8,"m":2.5,"n":4},{"x0":-8.4,"x1":-7.8,"m":2,"n":1},{"x0":-7.8,"x1":-7.2,"m":3.5,"n":1},{"x0":-7.8,"x1":-7.2,"m":3,"n":1},{"x0":-7.8,"x1":-7.2,"m":2.5,"n":6},{"x0":-7.8,"x1":-7.2,"m":2,"n":3},{"x0":-7.8,"x1":-7.2,"m":1,"n":1},{"x0":-7.2,"x1":-6.6,"m":3.5,"n":1},{"x0":-7.2,"x1":-6.6,"m":3,"n":3},{"x0":-7.2,"x1":-6.6,"m":2.5,"n":6},{"x0":-7.2,"x1":-6.6,"m":2,"n":2},{"x0":-6.6,"x1":-6.0,"m":3.5,"n":1},{"x0":-6.6,"x1":-6.0,"m":3,"n":2},{"x0":-6.6,"x1":-6.0,"m":2.5,"n":6},{"x0":-6.6,"x1":-6.0,"m":2,"n":1},{"x0":-6.6,"x1":-6.0,"m":1,"n":2},{"x0":-6.0,"x1":-5.4,"m":3,"n":2},{"x0":-6.0,"x1":-5.4,"m":2.5,"n":6},{"x0":-6.0,"x1":-5.4,"m":2,"n":5},{"x0":-6.0,"x1":-5.4,"m":1,"n":3},{"x0":-5.4,"x1":-4.8,"m":4,"n":1},{"x0":-5.4,"x1":-4.8,"m":3.5,"n":6},{"x0":-5.4,"x1":-4.8,"m":3,"n":20},{"x0":-5.4,"x1":-4.8,"m":2.5,"n":28},{"x0":-5.4,"x1":-4.8,"m":2,"n":34},{"x0":-5.4,"x1":-4.8,"m":1,"n":7},{"x0":-4.8,"x1":-4.2,"m":3.5,"n":1},{"x0":-4.8,"x1":-4.2,"m":2.5,"n":1},{"x0":-4.8,"x1":-4.2,"m":1,"n":4},{"x0":-4.2,"x1":-3.6,"m":4,"n":1},{"x0":-4.2,"x1":-3.6,"m":3.5,"n":1},{"x0":-4.2,"x1":-3.6,"m":2.5,"n":1},{"x0":-4.2,"x1":-3.6,"m":2,"n":1},{"x0":-4.2,"x1":-3.6,"m":1,"n":3},{"x0":-3.6,"x1":-3.0,"m":4.5,"n":1},{"x0":-3.6,"x1":-3.0,"m":3,"n":1},{"x0":-3.6,"x1":-3.0,"m":2.5,"n":2},{"x0":-3.0,"x1":-2.4,"m":2.5,"n":1},{"x0":-2.4,"x1":-1.8,"m":2,"n":3},{"x0":-1.8,"x1":-1.2,"m":2,"n":1}]},
"mark":{"type":"bar","binSpacing":0},
"encoding":{"x":{"field":"x0","type":"quantitative","bin":"binned","scale":{"domain":[-15.883,-0.178],"nice":false,"zero":false},"axis":null},"x2":{"field":"x1"},"y":{"field":"n","type":"quantitative","stack":"zero","scale":{"domain":[0,122.9],"nice":false},"axis":null},"order":{"field":"m","sort":"descending"},
"color":{"field":"m","type":"nominal","scale":{"domain":[4.5,4,3.5,3,2.5,2,1],"range":["#ED1C24","#F58220","#F2EA14","#6ABD45","#6DCCDD","#3953A4","#6B52A0"]},"legend":null}}},
{"data":{"values":[{"t":-14.8},{"t":-14.6},{"t":-14.4},{"t":-14.2},{"t":-13.8},{"t":-13.6},{"t":-13.4},{"t":-13.2},{"t":-12.8},{"t":-12.6},{"t":-12.4},{"t":-12.2},{"t":-11.8},{"t":-11.6},{"t":-11.4},{"t":-11.2},{"t":-10.8},{"t":-10.6},{"t":-10.4},{"t":-10.2},{"t":-9.8},{"t":-9.6},{"t":-9.4},{"t":-9.2},{"t":-8.8},{"t":-8.6},{"t":-8.4},{"t":-8.2},{"t":-7.8},{"t":-7.6},{"t":-7.4},{"t":-7.2},{"t":-6.8},{"t":-6.6},{"t":-6.4},{"t":-6.2},{"t":-5.8},{"t":-5.6},{"t":-5.4},{"t":-5.2},{"t":-4.8},{"t":-4.6},{"t":-4.4},{"t":-4.2},{"t":-3.8},{"t":-3.6},{"t":-3.4},{"t":-3.2},{"t":-2.8},{"t":-2.6},{"t":-2.4},{"t":-2.2},{"t":-1.8},{"t":-1.6},{"t":-1.4},{"t":-1.2},{"t":-15,"major":true},{"t":-14,"major":true},{"t":-13,"major":true},{"t":-12,"major":true},{"t":-11,"major":true},{"t":-10,"major":true},{"t":-9,"major":true},{"t":-8,"major":true},{"t":-7,"major":true},{"t":-6,"major":true},{"t":-5,"major":true},{"t":-4,"major":true},{"t":-3,"major":true},{"t":-2,"major":true}]},
"transform":[{"calculate":"-0.5","as":"u0"},{"calculate":"3","as":"u1"}],
"mark":{"type":"rule","strokeWidth":1.5},
"encoding":{"x":{"field":"t","type":"quantitative"},"y":{"field":"u0","type":"quantitative"},"y2":{"field":"u1"},"stroke":{"condition":{"test":"datum.major","value":"#444444"},"value":"#bbbbbb"}}},
{"data":{"values":[{"label":"-15.0","at":-14.504,"n":-7.8},{"label":"-13.0","at":-12.582,"n":-7.8},{"label":"-11.0","at":-10.59,"n":-7.8},{"label":"-9.0","at":-8.806,"n":-7.8},{"label":"-7.0","at":-6.804,"n":-7.8},{"label":"-5.0","at":-4.901,"n":-7.8},{"label":"-3.0","at":-2.939,"n":-7.8},{"label":"-1.0","at":-1.075,"n":-7.8}]},
"mark":{"type":"text","font":"Open Sans","fontWeight":"bold","fontSize":27,"color":"#1a1a1a","align":"center","baseline":"middle"},
"encoding":{"x":{"field":"at","type":"quantitative"},"y":{"field":"n","type":"quantitative"},"text":{"field":"label"}}},
{"data":{"values":[{"label":"Depth (km)","at":-7.7,"n":-26.3}]},
"mark":{"type":"text","font":"Liberation Sans","fontSize":41,"color":"#1a1a1a","align":"center","baseline":"middle"},
"encoding":{"x":{"field":"at","type":"quantitative"},"y":{"field":"n","type":"quantitative"},"text":{"field":"label"}}}
]}
],"spacing":0,"bounds":"flush"}
]
}
